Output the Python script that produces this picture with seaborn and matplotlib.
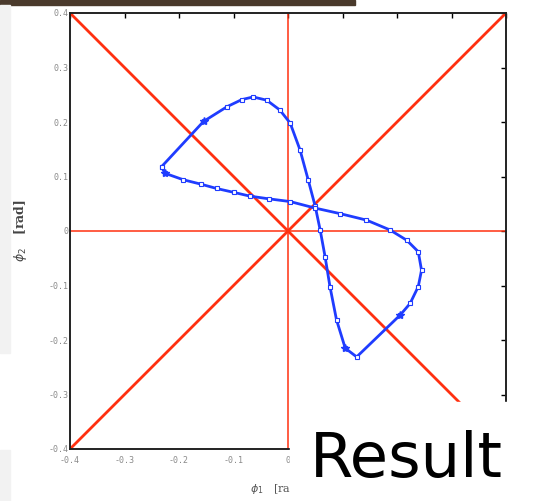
import numpy as np
import pandas as pd
import seaborn as sns
import matplotlib.pyplot as plt
from matplotlib.patches import Rectangle

# === trajectory (phi1, phi2 in rad) ===
phi1 = [-0.232, -0.155, -0.112, -0.085, -0.064, -0.039, -0.015, 0.004, 0.022,
        0.037, 0.050, 0.059, 0.068, 0.077, 0.089, 0.105, 0.126, 0.206, 0.224,
        0.239, 0.245, 0.239, 0.218, 0.187, 0.144, 0.095, 0.050, 0.004, -0.035,
        -0.070, -0.100, -0.131, -0.160, -0.192, -0.226, -0.232]
phi2 = [0.118, 0.201, 0.228, 0.241, 0.246, 0.240, 0.222, 0.198, 0.149,
        0.094, 0.045, 0.002, -0.047, -0.102, -0.163, -0.215, -0.231, -0.154, -0.133,
        -0.102, -0.072, -0.038, -0.017, 0.002, 0.020, 0.032, 0.042, 0.054, 0.059,
        0.064, 0.071, 0.078, 0.086, 0.094, 0.106, 0.118]

# points with the star-like markers
event_phi1 = [-0.155, 0.206, 0.105, -0.226]
event_phi2 = [0.201, -0.154, -0.215, 0.106]

ticks = [-0.4, -0.3, -0.2, -0.1, 0, 0.1, 0.2, 0.3, 0.4]
tick_labels = ["-0.4", "-0.3", "-0.2", "-0.1", "0", "0.1", "0.2", "0.3", "0.4"]

traj = pd.DataFrame({"phi1": phi1, "phi2": phi2})

sns.set_style("white")
fig = plt.figure(figsize=(5.38, 5.01), dpi=100)
ax = fig.add_axes([70 / 538, 1 - 449 / 501, 436 / 538, 436 / 501])

red = "#ff3010"
blue = "#1f3cff"

# reference lines
ax.axline((0, 0), slope=1, color=red, lw=2.0, zorder=1)
ax.axline((0, 0), slope=-1, color=red, lw=2.0, zorder=1)
ax.axhline(0, color=red, lw=1.1, zorder=1)
ax.axvline(0, color=red, lw=1.1, zorder=1)

sns.lineplot(data=traj, x="phi1", y="phi2", sort=False, estimator=None,
             color=blue, lw=2.0, marker="s", markersize=2.2,
             markerfacecolor="white", markeredgecolor=blue, markeredgewidth=0.8,
             ax=ax, zorder=3)
ax.plot(event_phi1, event_phi2, linestyle="none", marker="*", ms=6,
        color=blue, zorder=4)

ax.set_xlim(-0.4, 0.4)
ax.set_ylim(-0.4, 0.4)
ax.set_xticks(ticks)
ax.set_yticks(ticks)
ax.set_xticklabels(tick_labels)
ax.set_yticklabels(tick_labels)
ax.tick_params(direction="in", top=True, right=True, length=3.5, width=1,
               color="black", labelsize=6, labelcolor="#8a8a8a")
ax.tick_params(axis="x", pad=5)
ax.tick_params(axis="y", pad=1)
for lab in ax.get_xticklabels() + ax.get_yticklabels():
    lab.set_family("DejaVu Sans Mono")
# x tick labels right of zero sit under the caption box
for lab in ax.get_xticklabels()[5:]:
    lab.set_visible(False)
for sp in ax.spines.values():
    sp.set_color("#222222")
    sp.set_linewidth(1.4)

ax.set_xlabel(r"$\phi_1$   [rad]", fontsize=8, color="#555555", family="DejaVu Serif")
ax.xaxis.label.set_ha("left")
ax.xaxis.set_label_coords((250 - 70) / 436, -0.075)
ax.set_ylabel(r"$\phi_2$   [rad]", fontsize=9, color="#444444", family="DejaVu Serif",
              fontweight="bold")
ax.yaxis.set_label_coords(-0.095, 0.5)

# slide background pieces
fig.add_artist(Rectangle((0, 1 - 5 / 501), 355 / 538, 5 / 501,
                         transform=fig.transFigure, color="#4a3a2c", zorder=-1))
fig.add_artist(Rectangle((0, 1 - 353 / 501), 10 / 538, 348 / 501,
                         transform=fig.transFigure, color="#f2f2f2", zorder=-1))
fig.add_artist(Rectangle((0, 0), 10 / 538, 51 / 501,
                         transform=fig.transFigure, color="#f2f2f2", zorder=-1))

# box with the caption on top of the chart
fig.add_artist(Rectangle((290 / 538, 0), 248 / 538, 99 / 501,
                         transform=fig.transFigure, color="white", zorder=5))
fig.text(310 / 538, 1 - 477 / 501, "Result", fontsize=45, va="baseline",
         color="black", zorder=6)

fig.savefig("out.png", dpi=100)
